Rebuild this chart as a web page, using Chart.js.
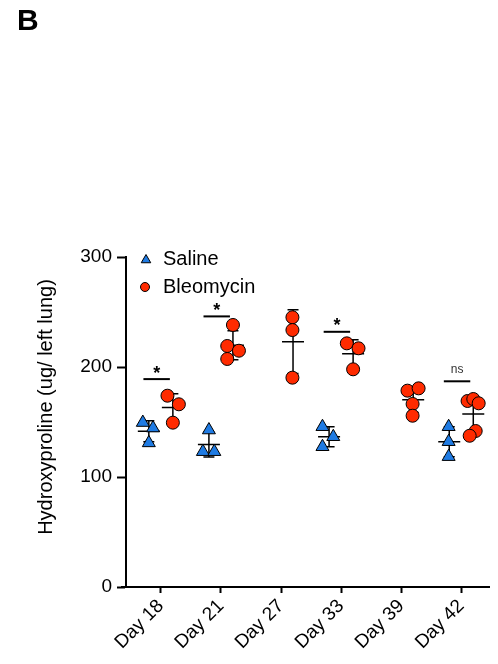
<!DOCTYPE html>
<html>
<head>
<meta charset="utf-8">
<script src="https://cdn.jsdelivr.net/npm/chart.js@4.4.1/dist/chart.umd.min.js"></script>
<style>
  html, body { margin: 0; padding: 0; background: #fff; }
  #wrap { position: relative; width: 498px; height: 664px; }
  #panel { position: absolute; left: 17px; top: 5px; font: bold 30px 'Liberation Sans', Arial, sans-serif; line-height: 1; color: #000; }
</style>
</head>
<body>
<div id="wrap">
  <canvas id="chart" width="498" height="664"></canvas>
  <div id="panel">B</div>
</div>
<script>
// categorias e valores
const days = ['Day 18', 'Day 21', 'Day 27', 'Day 33', 'Day 39', 'Day 42'];
const yTicks = [0, 100, 200, 300];

const salineDay = [0, 0, 0, 1, 1, 1, 3, 3, 3, 5, 5, 5];
const salineValues = [149.5, 144.5, 131, 142.7, 123, 123, 145.7, 136.6, 127.5, 145.7, 132.1, 118.5];
const salineJitter = [-0.30, -0.13, -0.20, -0.20, -0.30, -0.11, -0.31, -0.13, -0.31, -0.21, -0.21, -0.21];

const bleoDay = [0, 0, 0, 1, 1, 1, 1, 2, 2, 2, 3, 3, 3, 4, 4, 4, 4, 5, 5, 5, 5, 5];
const bleoValues = [173.9, 166.1, 149.4, 238.2, 219.1, 214.8, 207.3, 245.2, 233.6, 190.3, 221.5, 217, 197.9, 178.5, 180.6, 166.4, 155.7, 169.1, 170.9, 167, 141.8, 137.5];
const bleoJitter = [0.11, 0.30, 0.20, 0.20, 0.105, 0.30, 0.105, 0.19, 0.19, 0.19, 0.095, 0.29, 0.20, 0.105, 0.29, 0.19, 0.19, 0.105, 0.20, 0.29, 0.24, 0.14];

// comparações (Saline x Bleomycin)
const sigDays = [0, 1, 3, 5];
const sigLabels = ['*', '*', '*', 'ns'];
const sigLevels = [189, 246, 232, 187];

const FONT = "'Liberation Sans', Arial, sans-serif";
const BLUE = '#1F7BE3';
const RED = '#FF2B00';

const toPoints = (dayArr, vals, jit) => vals.map((v, i) => ({ x: dayArr[i] + jit[i], y: v }));

// média ± DP por dia, desenhados por baixo dos pontos
const errorBars = {
  id: 'errorBars',
  beforeDatasetsDraw(chart) {
    const { ctx, chartArea, scales: { x, y } } = chart;
    const groups = [
      { dayArr: salineDay, vals: salineValues, off: -0.2 },
      { dayArr: bleoDay, vals: bleoValues, off: 0.2 }
    ];
    ctx.save();
    // eixo x começa um pouco antes do eixo y (estilo Prism)
    ctx.strokeStyle = '#000';
    ctx.lineWidth = 2;
    ctx.beginPath();
    ctx.moveTo(chartArea.left - 5, chartArea.bottom);
    ctx.lineTo(chartArea.left, chartArea.bottom);
    ctx.stroke();

    ctx.lineWidth = 1.5;
    groups.forEach((g) => {
      days.forEach((_, d) => {
        const v = g.vals.filter((_, i) => g.dayArr[i] === d);
        if (v.length < 2) return;
        const m = v.reduce((a, b) => a + b, 0) / v.length;
        const sd = Math.sqrt(v.reduce((a, b) => a + (b - m) ** 2, 0) / (v.length - 1));
        const px = x.getPixelForValue(d + g.off);
        const top = y.getPixelForValue(m + sd), bot = y.getPixelForValue(m - sd), mid = y.getPixelForValue(m);
        ctx.beginPath();
        ctx.moveTo(px, top); ctx.lineTo(px, bot);
        ctx.moveTo(px - 5.5, top); ctx.lineTo(px + 5.5, top);
        ctx.moveTo(px - 5.5, bot); ctx.lineTo(px + 5.5, bot);
        ctx.moveTo(px - 11, mid); ctx.lineTo(px + 11, mid);
        ctx.stroke();
      });
    });
    ctx.restore();
  }
};

// barras de significância, legenda e título do eixo y
const extras = {
  id: 'extras',
  afterDatasetsDraw(chart) {
    const { ctx, scales: { x, y } } = chart;
    ctx.save();
    sigDays.forEach((d, i) => {
      const ly = y.getPixelForValue(sigLevels[i]);
      ctx.strokeStyle = '#000';
      ctx.lineWidth = 2;
      ctx.beginPath();
      ctx.moveTo(x.getPixelForValue(d - 0.29), ly);
      ctx.lineTo(x.getPixelForValue(d + 0.15), ly);
      ctx.stroke();
      const cx = x.getPixelForValue(d - 0.07);
      ctx.textAlign = 'center';
      ctx.textBaseline = 'alphabetic';
      if (sigLabels[i] === 'ns') {
        ctx.fillStyle = '#333';
        ctx.font = '12px ' + FONT;
        ctx.fillText('ns', cx, ly - 8);
      } else {
        ctx.fillStyle = '#000';
        ctx.font = 'bold 18px ' + FONT;
        ctx.fillText(sigLabels[i], cx, ly - 0.5);
      }
    });

    // legenda
    ctx.lineWidth = 1;
    ctx.strokeStyle = '#000';
    ctx.fillStyle = BLUE;
    ctx.beginPath();
    const tx = 146, ty = 260, tr = 5.5;
    ctx.moveTo(tx, ty - tr);
    ctx.lineTo(tx + tr * 0.866, ty + tr / 2);
    ctx.lineTo(tx - tr * 0.866, ty + tr / 2);
    ctx.closePath();
    ctx.fill(); ctx.stroke();
    ctx.fillStyle = RED;
    ctx.beginPath();
    ctx.arc(145, 287, 4.5, 0, Math.PI * 2);
    ctx.fill(); ctx.stroke();
    ctx.fillStyle = '#000';
    ctx.font = '20px ' + FONT;
    ctx.textAlign = 'left';
    ctx.textBaseline = 'middle';
    ctx.fillText('Saline', 163, 259);
    ctx.fillText('Bleomycin', 163, 287);

    // título do eixo y
    ctx.translate(46, 407);
    ctx.rotate(-Math.PI / 2);
    ctx.textAlign = 'center';
    ctx.fillText('Hydroxyproline (ug/ left lung)', 0, 0);
    ctx.restore();
  }
};

new Chart(document.getElementById('chart'), {
  type: 'scatter',
  data: {
    datasets: [
      {
        label: 'Saline',
        data: toPoints(salineDay, salineValues, salineJitter),
        pointStyle: 'triangle',
        pointRadius: 7.5,
        backgroundColor: BLUE,
        borderColor: '#000',
        borderWidth: 1
      },
      {
        label: 'Bleomycin',
        data: toPoints(bleoDay, bleoValues, bleoJitter),
        pointStyle: 'circle',
        pointRadius: 6.5,
        backgroundColor: RED,
        borderColor: '#000',
        borderWidth: 1
      }
    ]
  },
  options: {
    responsive: false,
    animation: false,
    layout: { padding: { top: 257, right: 8, bottom: 0, left: 0 } },
    plugins: { legend: { display: false }, tooltip: { enabled: false } },
    scales: {
      x: {
        type: 'linear',
        min: -0.58,
        max: 5.47,
        afterBuildTicks: (s) => { s.ticks = days.map((_, i) => ({ value: i })); },
        afterFit: (s) => { s.height = 77; },
        ticks: {
          callback: (v) => days[v] ?? '',
          minRotation: 45,
          maxRotation: 45,
          autoSkip: false,
          padding: 2,
          color: '#000',
          font: { family: FONT, size: 19 }
        },
        grid: { drawOnChartArea: false, drawTicks: true, tickLength: 6, tickColor: '#000', tickWidth: 2 },
        border: { color: '#000', width: 2 }
      },
      y: {
        min: 0,
        max: 300,
        afterBuildTicks: (s) => { s.ticks = yTicks.map((v) => ({ value: v })); },
        afterFit: (s) => { s.width = 126; },
        ticks: { color: '#000', padding: 5, font: { family: FONT, size: 19 } },
        grid: { drawOnChartArea: false, drawTicks: true, tickLength: 9, tickColor: '#000', tickWidth: 2 },
        border: { color: '#000', width: 2 }
      }
    }
  },
  plugins: [errorBars, extras]
});
</script>
</body>
</html>
